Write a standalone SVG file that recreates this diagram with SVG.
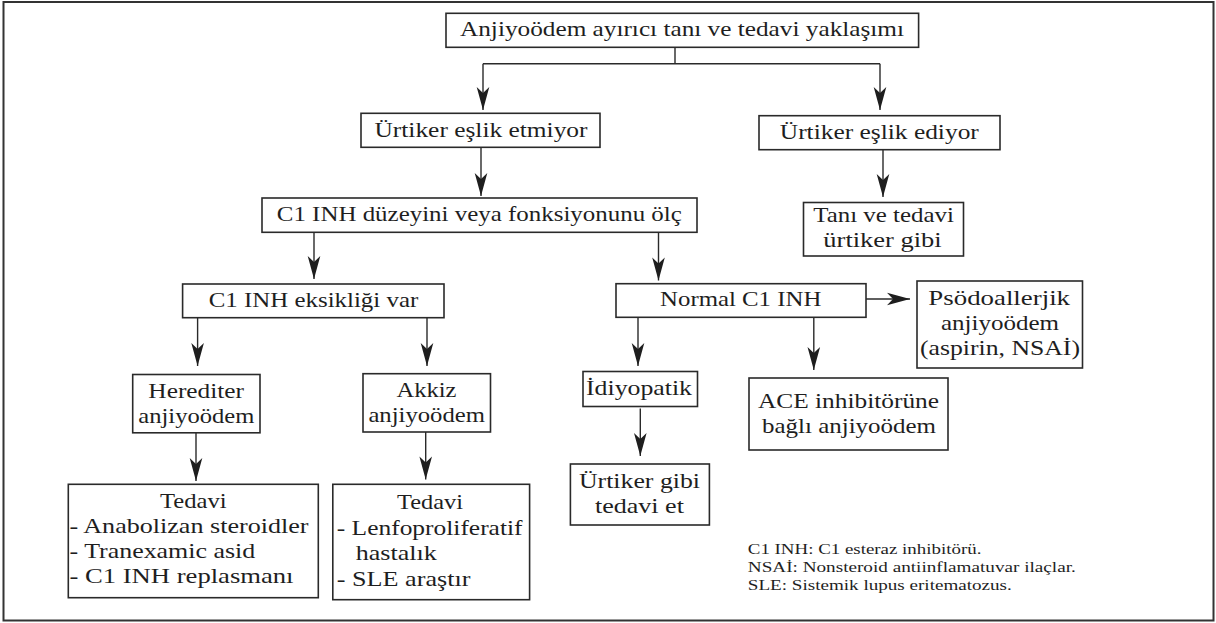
<svg xmlns="http://www.w3.org/2000/svg" width="1216" height="623" viewBox="0 0 1216 623">
<defs>
<style>
.box{fill:#fff;stroke:#2a2a2a;stroke-width:1.6}
.t{font-family:"Liberation Serif","Times New Roman",serif;font-size:21px;fill:#1e1e1e;text-anchor:middle}
.l{font-family:"Liberation Serif","Times New Roman",serif;font-size:21px;fill:#1e1e1e}
.fn{font-family:"Liberation Serif","Times New Roman",serif;font-size:14px;fill:#1e1e1e}
.c{fill:none;stroke:#2a2a2a;stroke-width:1.4}
</style>
<marker id="ah" markerUnits="userSpaceOnUse" markerWidth="26" markerHeight="16" viewBox="-24 -8 26 16" refX="0" refY="0" orient="auto">
<path d="M0,0 L-23,-6.3 L-17,0 L-23,6.3 Z" fill="#1e1e1e"/>
</marker>
</defs>
<rect x="3.5" y="2" width="1210" height="618.5" fill="#fff" stroke="#333" stroke-width="2"/>
<g id="connectors">
<path class="c" d="M675,47.3 V63.7 M483,63.7 H880"/>
<path class="c" d="M483,63.7 V110" marker-end="url(#ah)"/>
<path class="c" d="M880,63.7 V110" marker-end="url(#ah)"/>
<path class="c" d="M481,147.3 V196" marker-end="url(#ah)"/>
<path class="c" d="M883,149.7 V197" marker-end="url(#ah)"/>
<path class="c" d="M314,232.3 V279" marker-end="url(#ah)"/>
<path class="c" d="M658.5,232.3 V280.5" marker-end="url(#ah)"/>
<path class="c" d="M866,299 H910" marker-end="url(#ah)"/>
<path class="c" d="M197.6,317.7 V366" marker-end="url(#ah)"/>
<path class="c" d="M427,317.7 V366" marker-end="url(#ah)"/>
<path class="c" d="M196,432.8 V481" marker-end="url(#ah)"/>
<path class="c" d="M425.7,432 V479.5" marker-end="url(#ah)"/>
<path class="c" d="M638,317.3 V366" marker-end="url(#ah)"/>
<path class="c" d="M813.8,317.3 V370" marker-end="url(#ah)"/>
<path class="c" d="M640.3,408.5 V456" marker-end="url(#ah)"/>
</g>
<g id="n-title"><rect class="box" x="446" y="13.3" width="472.6" height="34"/><text class="t" x="682" y="35.8" textLength="444" lengthAdjust="spacingAndGlyphs">Anjiyoödem ayırıcı tanı ve tedavi yaklaşımı</text></g>
<g id="n-etmiyor"><rect class="box" x="361" y="113.3" width="239" height="34"/><text class="t" x="481" y="136.5" textLength="213" lengthAdjust="spacingAndGlyphs">Ürtiker eşlik etmiyor</text></g>
<g id="n-ediyor"><rect class="box" x="759" y="115.7" width="241" height="34"/><text class="t" x="879.3" y="138.5" textLength="199" lengthAdjust="spacingAndGlyphs">Ürtiker eşlik ediyor</text></g>
<g id="n-c1"><rect class="box" x="262" y="198" width="435" height="34.3"/><text class="t" x="479.3" y="221" textLength="405" lengthAdjust="spacingAndGlyphs">C1 INH düzeyini veya fonksiyonunu ölç</text></g>
<g id="n-tani"><rect class="box" x="803.5" y="202.5" width="160" height="53.5"/><text class="t" x="883.6" y="221.5" textLength="140.7" lengthAdjust="spacingAndGlyphs">Tanı ve tedavi</text><text class="t" x="882.5" y="246.5" textLength="118.3" lengthAdjust="spacingAndGlyphs">ürtiker gibi</text></g>
<g id="n-eksik"><rect class="box" x="182.6" y="284" width="261.4" height="33.7"/><text class="t" x="313.5" y="306.5" textLength="209.5" lengthAdjust="spacingAndGlyphs">C1 INH eksikliği var</text></g>
<g id="n-normal"><rect class="box" x="616" y="283.7" width="250" height="33.6"/><text class="t" x="740.7" y="306.3" textLength="161.3" lengthAdjust="spacingAndGlyphs">Normal C1 INH</text></g>
<g id="n-psodo"><rect class="box" x="917" y="281" width="165.5" height="87"/><text class="t" x="999.2" y="305" textLength="141.7" lengthAdjust="spacingAndGlyphs">Psödoallerjik</text><text class="t" x="1000" y="330" textLength="118" lengthAdjust="spacingAndGlyphs">anjiyoödem</text><text class="t" x="1000" y="355" textLength="160" lengthAdjust="spacingAndGlyphs">(aspirin, NSAİ)</text></g>
<g id="n-herediter"><rect class="box" x="132.7" y="374.5" width="127.3" height="58.3"/><text class="t" x="196.2" y="397.7" textLength="95.7" lengthAdjust="spacingAndGlyphs">Herediter</text><text class="t" x="196.3" y="422.7" textLength="116" lengthAdjust="spacingAndGlyphs">anjiyoödem</text></g>
<g id="n-akkiz"><rect class="box" x="363" y="373.7" width="127.5" height="58.3"/><text class="t" x="426.5" y="397" textLength="60" lengthAdjust="spacingAndGlyphs">Akkiz</text><text class="t" x="426.7" y="422" textLength="116.6" lengthAdjust="spacingAndGlyphs">anjiyoödem</text></g>
<g id="n-idiyopatik"><rect class="box" x="583" y="371.5" width="114.5" height="35"/><text class="t" x="639" y="394.8" textLength="106" lengthAdjust="spacingAndGlyphs">İdiyopatik</text></g>
<g id="n-ace"><rect class="box" x="749" y="378" width="199" height="72"/><text class="t" x="848.5" y="408" textLength="181" lengthAdjust="spacingAndGlyphs">ACE inhibitörüne</text><text class="t" x="849" y="433" textLength="174" lengthAdjust="spacingAndGlyphs">bağlı anjiyoödem</text></g>
<g id="n-urtikergibi"><rect class="box" x="570.4" y="464" width="139" height="61"/><text class="t" x="639.5" y="488" textLength="121" lengthAdjust="spacingAndGlyphs">Ürtiker gibi</text><text class="t" x="639.4" y="513" textLength="89" lengthAdjust="spacingAndGlyphs">tedavi et</text></g>
<g id="n-tedavi1"><rect class="box" x="68.3" y="484.3" width="250" height="113.4"/><text class="t" x="193.3" y="508" textLength="66.7" lengthAdjust="spacingAndGlyphs">Tedavi</text><text class="l" x="69.5" y="533.3" textLength="239" lengthAdjust="spacingAndGlyphs">- Anabolizan steroidler</text><text class="l" x="69.5" y="558.3" textLength="185.7" lengthAdjust="spacingAndGlyphs">- Tranexamic asid</text><text class="l" x="69.5" y="583.3" textLength="224" lengthAdjust="spacingAndGlyphs">- C1 INH replasmanı</text></g>
<g id="n-tedavi2"><rect class="box" x="332.8" y="484.3" width="196.8" height="115.4"/><text class="t" x="430" y="509" textLength="66" lengthAdjust="spacingAndGlyphs">Tedavi</text><text class="l" x="336.8" y="534.5" textLength="185.7" lengthAdjust="spacingAndGlyphs">- Lenfoproliferatif</text><text class="l" x="355.7" y="560" textLength="81" lengthAdjust="spacingAndGlyphs">hastalık</text><text class="l" x="336.8" y="585.5" textLength="133.6" lengthAdjust="spacingAndGlyphs">- SLE araştır</text></g>
<g id="footnotes"><text class="fn" x="747.8" y="554" textLength="233.6" lengthAdjust="spacingAndGlyphs">C1 INH: C1 esteraz inhibitörü.</text><text class="fn" x="747.8" y="572" textLength="328" lengthAdjust="spacingAndGlyphs">NSAİ: Nonsteroid antiinflamatuvar ilaçlar.</text><text class="fn" x="747.8" y="590" textLength="264" lengthAdjust="spacingAndGlyphs">SLE: Sistemik lupus eritematozus.</text></g>
</svg>
